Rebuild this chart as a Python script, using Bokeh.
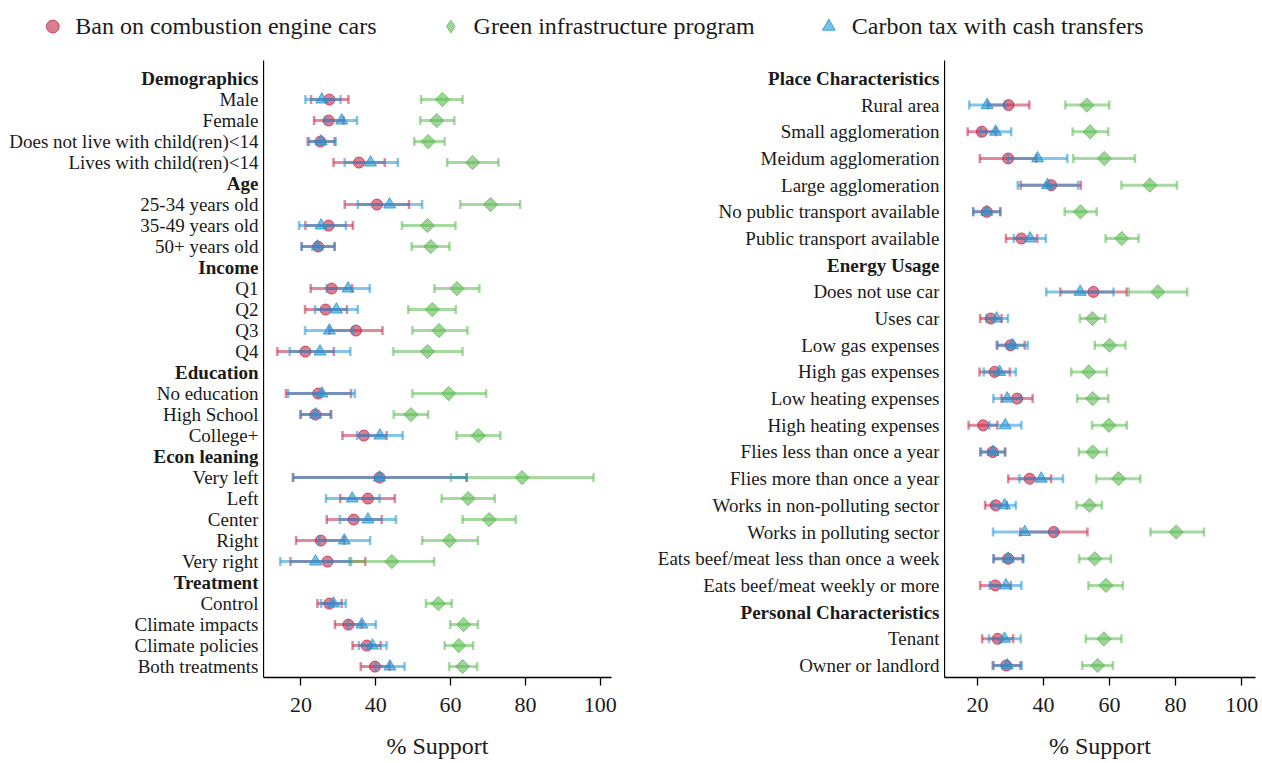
import numpy as np
from bokeh.plotting import figure
from bokeh.models import ColumnDataSource, Range1d, FixedTicker, Legend, LegendItem
from bokeh.layouts import column, row
from bokeh.embed import file_html
from bokeh.resources import INLINE
from bokeh.core.properties import value

FONT = "Liberation Serif"
TEXT = "#1a1a1a"

series_names = ["Ban on combustion engine cars", "Green infrastructure program", "Carbon tax with cash transfers"]
series_colors = ["#C42847", "#5DBB53", "#2196D3"]

# ---------------- left panel ----------------
left_labels = ["Demographics", "Male", "Female", "Does not live with child(ren)<14", "Lives with child(ren)<14",
               "Age", "25-34 years old", "35-49 years old", "50+ years old",
               "Income", "Q1", "Q2", "Q3", "Q4",
               "Education", "No education", "High School", "College+",
               "Econ leaning", "Very left", "Left", "Center", "Right", "Very right",
               "Treatment", "Control", "Climate impacts", "Climate policies", "Both treatments"]
left_headers = ["Demographics", "Age", "Income", "Education", "Econ leaning", "Treatment"]

left_ban_mean = [27.6, 27.4, 25.2, 35.5, 40.3, 27.4, 24.6, 28.2, 26.6, 34.7, 21.2, 24.6, 23.9, 36.8,
                 41.0, 37.9, 34.1, 25.3, 27.1, 27.6, 32.7, 37.6, 39.8]
left_ban_lo = [22.7, 23.5, 21.8, 28.7, 31.7, 21.2, 20.2, 22.6, 21.1, 27.6, 13.7, 16.0, 20.0, 31.1,
               17.9, 30.5, 26.9, 18.7, 17.2, 24.4, 29.1, 33.8, 36.0]
left_ban_hi = [32.7, 31.4, 29.0, 42.4, 48.9, 33.9, 29.0, 33.7, 32.3, 41.8, 28.8, 33.4, 28.1, 42.9,
               64.3, 45.1, 41.6, 31.6, 37.2, 30.9, 36.3, 41.3, 43.7]

left_green_mean = [57.8, 56.3, 54.0, 65.9, 70.7, 53.8, 54.7, 61.7, 55.1, 56.9, 53.8, 59.5, 49.4, 67.4,
                   79.1, 64.7, 70.3, 59.7, 44.3, 56.7, 63.5, 62.2, 63.2]
left_green_lo = [52.1, 51.9, 50.3, 59.1, 62.6, 47.0, 49.6, 55.7, 48.7, 49.8, 44.7, 49.8, 44.8, 61.6,
                 60.1, 57.6, 63.2, 52.4, 32.9, 53.4, 59.9, 58.4, 59.6]
left_green_hi = [63.2, 61.0, 58.4, 72.8, 78.6, 61.3, 59.7, 67.7, 61.4, 64.5, 63.2, 69.5, 54.0, 73.3,
                 98.2, 71.8, 77.4, 67.3, 55.6, 60.3, 67.3, 66.0, 67.1]

left_tax_mean = [25.6, 30.9, 25.4, 38.6, 43.7, 25.4, 24.4, 32.6, 29.5, 27.6, 25.1, 25.6, 23.9, 41.1,
                 41.0, 33.7, 37.9, 31.6, 23.9, 28.7, 36.3, 39.1, 43.8]
left_tax_lo = [21.2, 26.6, 22.2, 31.7, 35.2, 19.5, 20.2, 26.9, 23.8, 21.1, 17.0, 16.6, 19.8, 35.0,
               17.9, 26.7, 30.4, 24.9, 14.5, 25.4, 32.6, 35.5, 40.0]
left_tax_hi = [30.6, 35.0, 29.3, 45.9, 52.4, 32.0, 29.0, 38.4, 35.2, 33.9, 33.2, 34.4, 27.9, 47.2,
               64.3, 41.0, 45.4, 38.5, 33.4, 32.0, 40.0, 42.9, 47.7]

# ---------------- right panel ----------------
right_labels = ["Place Characteristics", "Rural area", "Small agglomeration", "Meidum agglomeration",
                "Large agglomeration", "No public transport available", "Public transport available",
                "Energy Usage", "Does not use car", "Uses car", "Low gas expenses", "High gas expenses",
                "Low heating expenses", "High heating expenses", "Flies less than once a year",
                "Flies more than once a year", "Works in non-polluting sector", "Works in polluting sector",
                "Eats beef/meat less than once a week", "Eats beef/meat weekly or more",
                "Personal Characteristics", "Tenant", "Owner or landlord"]
right_headers = ["Place Characteristics", "Energy Usage", "Personal Characteristics"]

right_ban_mean = [29.4, 21.3, 29.3, 42.3, 22.8, 33.3, 55.1, 24.0, 30.0, 25.2, 32.0, 21.7, 24.6, 35.8,
                  25.5, 43.1, 29.3, 25.4, 26.1, 28.7]
right_ban_lo = [23.1, 17.0, 20.7, 33.1, 18.7, 28.6, 45.1, 20.8, 25.8, 20.6, 27.3, 17.3, 20.8, 29.3,
                22.3, 33.0, 24.9, 20.8, 21.4, 24.6]
right_ban_hi = [35.7, 25.6, 37.8, 51.3, 26.9, 38.1, 65.2, 27.3, 34.3, 29.8, 36.7, 26.0, 28.4, 42.3,
                28.9, 53.3, 33.7, 30.1, 30.8, 33.0]

right_green_mean = [53.1, 54.1, 58.4, 72.2, 51.2, 63.7, 74.6, 54.8, 60.0, 53.7, 54.9, 59.8, 54.9, 62.7,
                    53.9, 80.2, 55.5, 58.9, 58.3, 56.4]
right_green_lo = [46.6, 48.8, 49.0, 63.6, 46.4, 58.8, 65.8, 51.0, 55.5, 48.4, 50.2, 54.7, 50.7, 56.0,
                  50.0, 72.4, 50.8, 53.6, 52.8, 51.7]
right_green_hi = [59.9, 59.6, 67.7, 80.4, 56.1, 68.8, 83.5, 58.7, 64.8, 59.2, 59.6, 65.2, 59.2, 69.3,
                  57.7, 88.6, 60.4, 64.0, 63.6, 61.0]

right_tax_mean = [22.9, 25.5, 38.2, 41.2, 22.8, 35.9, 51.1, 25.8, 30.6, 26.7, 29.0, 28.4, 24.7, 39.3,
                  28.2, 34.3, 29.3, 28.6, 28.2, 29.0]
right_tax_lo = [17.5, 20.8, 29.2, 32.2, 18.7, 31.0, 40.8, 22.8, 26.1, 21.9, 24.8, 23.6, 21.1, 32.7,
                24.6, 24.7, 24.8, 23.7, 23.5, 24.9]
right_tax_hi = [28.4, 30.2, 47.2, 50.5, 26.9, 40.7, 61.2, 29.2, 35.2, 31.6, 33.1, 33.3, 28.3, 45.9,
                31.6, 44.0, 33.9, 33.3, 33.1, 33.4]

x_ticks = [20, 40, 60, 80, 100]

PH = 711          # panel height
TOP = 8
BOTTOM = 86
MARKERS = ["circle", "square", "triangle"]
LEGEND_MARKERS = ["circle", "diamond", "triangle"]
LEGEND_SIZES = [12, 18, 13]
SIZES = [11, 10, 12]
ANGLES = [0, np.pi / 4, 0]


def make_panel(labels, headers, series, x_start, x_end, label_w, width, border_right, pad_top, pad_bot):
    n = len(labels)
    yr = Range1d(n - 1 + pad_bot, -pad_top)
    item_rows = [i for i, lab in enumerate(labels) if lab not in headers]
    head_rows = [i for i, lab in enumerate(labels) if lab in headers]

    # label strip sharing the y range
    lab = figure(width=label_w, height=PH, output_backend="svg", toolbar_location=None,
                 x_range=Range1d(0, 1), y_range=yr, x_axis_location=None, y_axis_location=None,
                 min_border_left=0, min_border_right=5, min_border_top=TOP, min_border_bottom=BOTTOM)
    lab.outline_line_color = None
    lab.grid.visible = False
    lab.text(x=[1] * len(item_rows), y=item_rows, text=[labels[i] for i in item_rows],
             text_align="right", text_baseline="middle", text_font=value(FONT),
             text_font_size="19px", text_color=TEXT)
    lab.text(x=[1] * len(head_rows), y=head_rows, text=[labels[i] for i in head_rows],
             text_align="right", text_baseline="middle", text_font=value(FONT),
             text_font_size="19px", text_font_style="bold", text_color=TEXT)

    p = figure(width=width, height=PH, output_backend="svg", toolbar_location=None,
               x_range=Range1d(x_start, x_end), y_range=yr,
               min_border_left=0, min_border_right=border_right,
               min_border_top=TOP, min_border_bottom=BOTTOM)
    p.outline_line_color = None
    p.grid.visible = False

    for (mean, lo, hi), color, mk, sz, ang in zip(series, series_colors, MARKERS, SIZES, ANGLES):
        src = ColumnDataSource(dict(y=item_rows, m=mean, lo=lo, hi=hi))
        p.segment(x0="lo", y0="y", x1="hi", y1="y", source=src, line_color=color,
                  line_width=3, line_alpha=0.55)
        for col in ("lo", "hi"):
            p.scatter(x=col, y="y", source=src, marker="dash", angle=np.pi / 2, size=9,
                      line_color=color, line_width=2.5, line_alpha=0.55)
        p.scatter(x="m", y="y", source=src, marker=mk, angle=ang, size=sz,
                  fill_color=color, fill_alpha=0.6, line_color=color, line_alpha=0.8, line_width=1)

    p.yaxis.ticker = FixedTicker(ticks=[])
    p.yaxis.major_label_text_font_size = "0px"
    p.yaxis.major_label_standoff = 0
    p.yaxis.major_tick_out = 0
    p.yaxis.major_tick_in = 0
    p.yaxis.major_tick_line_color = None
    p.yaxis.minor_tick_line_color = None
    p.yaxis.axis_line_color = "black"
    p.yaxis.axis_line_width = 1.3

    p.xaxis.ticker = FixedTicker(ticks=x_ticks)
    p.xaxis.axis_line_color = "black"
    p.xaxis.axis_line_width = 1.3
    p.xaxis.major_tick_line_width = 1.3
    p.xaxis.major_tick_out = 8
    p.xaxis.major_tick_in = 0
    p.xaxis.minor_tick_line_color = None
    p.xaxis.major_label_standoff = 12
    p.xaxis.major_label_text_font = FONT
    p.xaxis.major_label_text_font_size = "22px"
    p.xaxis.major_label_text_color = TEXT
    p.xaxis.axis_label = "% Support"
    p.xaxis.axis_label_text_font = FONT
    p.xaxis.axis_label_text_font_size = "24px"
    p.xaxis.axis_label_text_font_style = "normal"
    p.xaxis.axis_label_text_color = TEXT
    p.xaxis.axis_label_standoff = 18
    return lab, p


lab1, p1 = make_panel(left_labels, left_headers,
                      [(left_ban_mean, left_ban_lo, left_ban_hi),
                       (left_green_mean, left_green_lo, left_green_hi),
                       (left_tax_mean, left_tax_lo, left_tax_hi)],
                      10, 103, 263, 367, 19, 0.86, 0.52)
lab2, p2 = make_panel(right_labels, right_headers,
                      [(right_ban_mean, right_ban_lo, right_ban_hi),
                       (right_green_mean, right_green_lo, right_green_hi),
                       (right_tax_mean, right_tax_lo, right_tax_hi)],
                      10, 104.2, 314, 318, 7, 0.67, 0.45)

# ---------------- legend strip ----------------
lf = figure(width=1262, height=52, output_backend="svg", toolbar_location=None,
            x_range=Range1d(0, 1), y_range=Range1d(0, 1),
            min_border_left=0, min_border_right=82, min_border_top=0, min_border_bottom=0)
lf.axis.visible = False
lf.grid.visible = False
lf.outline_line_color = None
items = []
for name, color, mk, sz in zip(series_names, series_colors, LEGEND_MARKERS, LEGEND_SIZES):
    r = lf.scatter(x=[float("nan")], y=[float("nan")], marker=mk, size=sz,
                   fill_color=color, fill_alpha=0.6, line_color=color, line_alpha=0.8, line_width=1)
    items.append(LegendItem(label=name, renderers=[r]))
legend = Legend(items=items, orientation="horizontal", location="center",
                label_text_font=FONT, label_text_font_size="24px", label_text_color=TEXT,
                glyph_width=32, glyph_height=32, label_standoff=7, spacing=58,
                padding=0, margin=0, border_line_alpha=0, background_fill_alpha=0)
lf.add_layout(legend, "center")

layout = column(lf, row(lab1, p1, lab2, p2, spacing=0), spacing=0)
open("out.html", "w").write(file_html(layout, INLINE))
